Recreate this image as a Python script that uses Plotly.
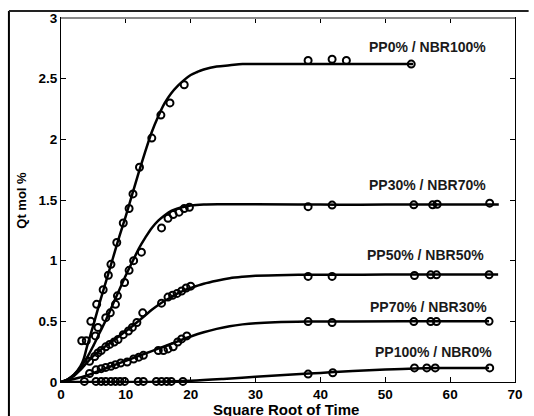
import plotly.graph_objects as go

# ---- marker data ----
s1_x = [3.2, 3.9, 4.6, 5.5, 6.5, 7.3, 7.7, 8.6, 9.6, 10.5, 11.1, 12.1, 14.0, 15.4, 16.8, 19.0, 38.1, 41.8, 44.0, 54.0]
s1_y = [0.34, 0.34, 0.50, 0.64, 0.76, 0.88, 0.97, 1.15, 1.31, 1.43, 1.55, 1.77, 2.01, 2.20, 2.30, 2.45, 2.65, 2.66, 2.65, 2.62]

s2_x = [5.3, 5.7, 6.9, 7.6, 8.4, 8.7, 9.8, 10.5, 11.2, 12.4, 15.5, 16.5, 17.3, 18.2, 19.0, 19.8, 38.1, 41.8, 54.4, 57.3, 58.0, 66.1]
s2_y = [0.38, 0.45, 0.53, 0.57, 0.64, 0.71, 0.82, 0.92, 1.00, 1.07, 1.27, 1.35, 1.38, 1.40, 1.43, 1.44, 1.445, 1.458, 1.46, 1.46, 1.465, 1.474]

s3_x = [4.4, 5.2, 5.7, 6.2, 6.9, 7.5, 8.2, 8.8, 9.6, 10.4, 11.0, 11.7, 12.6, 15.5, 16.5, 17.2, 17.9, 18.6, 19.3, 20.0, 38.1, 41.8, 54.5, 57.0, 57.9, 66.0]
s3_y = [0.17, 0.21, 0.24, 0.26, 0.29, 0.31, 0.33, 0.35, 0.39, 0.42, 0.45, 0.49, 0.57, 0.65, 0.70, 0.715, 0.73, 0.75, 0.775, 0.79, 0.87, 0.87, 0.878, 0.883, 0.883, 0.884]

s4_x = [4.4, 5.4, 6.2, 6.9, 7.7, 8.4, 9.2, 10.2, 11.2, 12.0, 12.7, 15.0, 15.8, 16.5, 17.3, 18.0, 18.6, 19.4, 38.1, 41.8, 54.4, 57.0, 57.9, 66.0]
s4_y = [0.07, 0.10, 0.11, 0.12, 0.13, 0.143, 0.157, 0.165, 0.19, 0.205, 0.22, 0.26, 0.26, 0.273, 0.29, 0.33, 0.355, 0.38, 0.498, 0.49, 0.498, 0.498, 0.498, 0.50]

s5_x = [3.6, 5.4, 6.2, 6.9, 7.7, 8.4, 9.1, 9.8, 11.9, 12.7, 14.7, 15.5, 16.3, 17.0, 18.8, 38.1, 41.9, 54.5, 56.4, 57.7, 66.1]
s5_y = [0.005, 0.005, 0.005, 0.005, 0.005, 0.005, 0.005, 0.005, 0.005, 0.005, 0.005, 0.005, 0.005, 0.005, 0.005, 0.065, 0.076, 0.116, 0.116, 0.116, 0.116]

# ---- fitted curves ----
c1_x = [0, 1, 2, 3, 3.5, 4, 5, 6, 7, 8, 9, 10, 11, 12, 13, 14, 15, 16, 17, 18, 19, 20, 21, 22, 24, 26, 28, 30, 40, 54.3]
c1_y = [0, 0.02, 0.06, 0.13, 0.19, 0.29, 0.47, 0.66, 0.84, 1.02, 1.20, 1.37, 1.55, 1.73, 1.90, 2.06, 2.19, 2.30, 2.38, 2.44, 2.49, 2.53, 2.555, 2.575, 2.60, 2.61, 2.62, 2.62, 2.62, 2.62]

c2_x = [0, 1, 2, 3, 4, 5, 6, 7, 8, 9, 10, 11, 12, 13, 14, 15, 16, 17, 18, 19, 20, 22, 25, 30, 40, 50, 60, 67.5]
c2_y = [0, 0.02, 0.06, 0.12, 0.20, 0.30, 0.41, 0.52, 0.64, 0.76, 0.88, 0.99, 1.10, 1.19, 1.27, 1.33, 1.375, 1.41, 1.43, 1.445, 1.455, 1.463, 1.465, 1.465, 1.462, 1.462, 1.462, 1.462]

c3_x = [0, 1, 2, 3, 4, 5, 6, 7, 8, 9, 10, 11, 12, 13, 14, 15, 16, 17, 18, 19, 20, 22, 24, 26, 28, 30, 35, 40, 50, 60, 67.4]
c3_y = [0, 0.02, 0.05, 0.10, 0.16, 0.215, 0.26, 0.30, 0.34, 0.38, 0.42, 0.46, 0.505, 0.55, 0.595, 0.635, 0.67, 0.70, 0.73, 0.755, 0.775, 0.81, 0.835, 0.855, 0.867, 0.875, 0.882, 0.884, 0.885, 0.885, 0.885]

c4_x = [0, 2, 4, 6, 8, 10, 12, 14, 16, 18, 20, 22, 24, 26, 28, 30, 33, 38, 45, 55, 66]
c4_y = [0, 0.025, 0.055, 0.095, 0.135, 0.175, 0.215, 0.255, 0.295, 0.335, 0.375, 0.41, 0.438, 0.46, 0.475, 0.485, 0.493, 0.498, 0.499, 0.5, 0.5]

c5_x = [0, 5, 10, 15, 20, 25, 30, 35, 40, 45, 50, 54.5, 58, 66]
c5_y = [0, 0, 0, 0.002, 0.01, 0.025, 0.043, 0.06, 0.075, 0.09, 0.103, 0.112, 0.115, 0.116]

labels = ["PP0% / NBR100%", "PP30% / NBR70%", "PP50% / NBR50%", "PP70% / NBR30%", "PP100% / NBR0%"]
label_x = [56.5, 56.5, 56.2, 56.7, 57.4]
label_y = [2.76, 1.626, 1.05, 0.62, 0.25]

x_ticks = [0, 10, 20, 30, 40, 50, 60, 70]
y_ticks = [0, 0.5, 1, 1.5, 2, 2.5, 3]

FONT = "Liberation Sans, Arial, sans-serif"

fig = go.Figure()
curves = [(c1_x, c1_y), (c2_x, c2_y), (c3_x, c3_y), (c4_x, c4_y), (c5_x, c5_y)]
series = [(s1_x, s1_y), (s2_x, s2_y), (s3_x, s3_y), (s4_x, s4_y), (s5_x, s5_y)]
for cx, cy in curves:
    fig.add_trace(go.Scatter(x=cx, y=cy, mode="lines", line=dict(color="black", width=2.5, shape="spline"),
                             showlegend=False, hoverinfo="skip"))
for sx, sy in series:
    fig.add_trace(go.Scatter(x=sx, y=sy, mode="markers", cliponaxis=False,
                             marker=dict(symbol="circle-open", size=7, color="black", line=dict(width=2, color="black")),
                             showlegend=False))

for t, lx, ly in zip(labels, label_x, label_y):
    fig.add_annotation(x=lx, y=ly, xref="x", yref="y", text=t, showarrow=False,
                       font=dict(family=FONT, size=14, color="#1a1a1a", weight="bold"))

fig.add_annotation(x=0.4957, y=-0.0745, xref="paper", yref="paper", text="Square Root of Time",
                   showarrow=False, font=dict(family=FONT, size=15, color="black", weight="bold"),
                   xanchor="center", yanchor="middle", borderpad=0)
fig.add_annotation(x=-0.0887, y=0.5, xref="paper", yref="paper", text="Qt mol %", textangle=-90,
                   showarrow=False, font=dict(family=FONT, size=13, color="black", weight="bold"),
                   xanchor="center", yanchor="middle")

# outer figure frame (left and top edges) and gray top axis line
fig.add_shape(type="line", xref="paper", yref="paper", x0=-0.1147, x1=-0.1147, y0=1.019, y1=-0.1,
              line=dict(color="black", width=2))
fig.add_shape(type="line", xref="paper", yref="paper", x0=-0.1147, x1=1.03, y0=1.019, y1=1.019,
              line=dict(color="#222", width=2))
fig.add_shape(type="line", xref="paper", yref="paper", x0=0, x1=1, y0=1, y1=1,
              line=dict(color="#8a8a8a", width=2))

axis_common = dict(showgrid=False, zeroline=False, showline=True, linecolor="black", linewidth=1,
                   mirror="ticks", ticks="inside", ticklen=5, tickcolor="black",
                   tickfont=dict(family=FONT, size=13.5, color="black", weight="bold"))
fig.update_xaxes(range=[0, 70], tickvals=x_ticks, **axis_common)
fig.update_yaxes(range=[0, 3], tickvals=y_ticks, **axis_common)

fig.update_layout(width=534, height=416, margin=dict(l=61, r=11, t=13, b=34),
                  plot_bgcolor="white", paper_bgcolor="white", showlegend=False)

fig.write_html("out.html", config={"displayModeBar": False},
               post_script="document.body.style.margin='0';document.body.style.overflow='hidden';")
